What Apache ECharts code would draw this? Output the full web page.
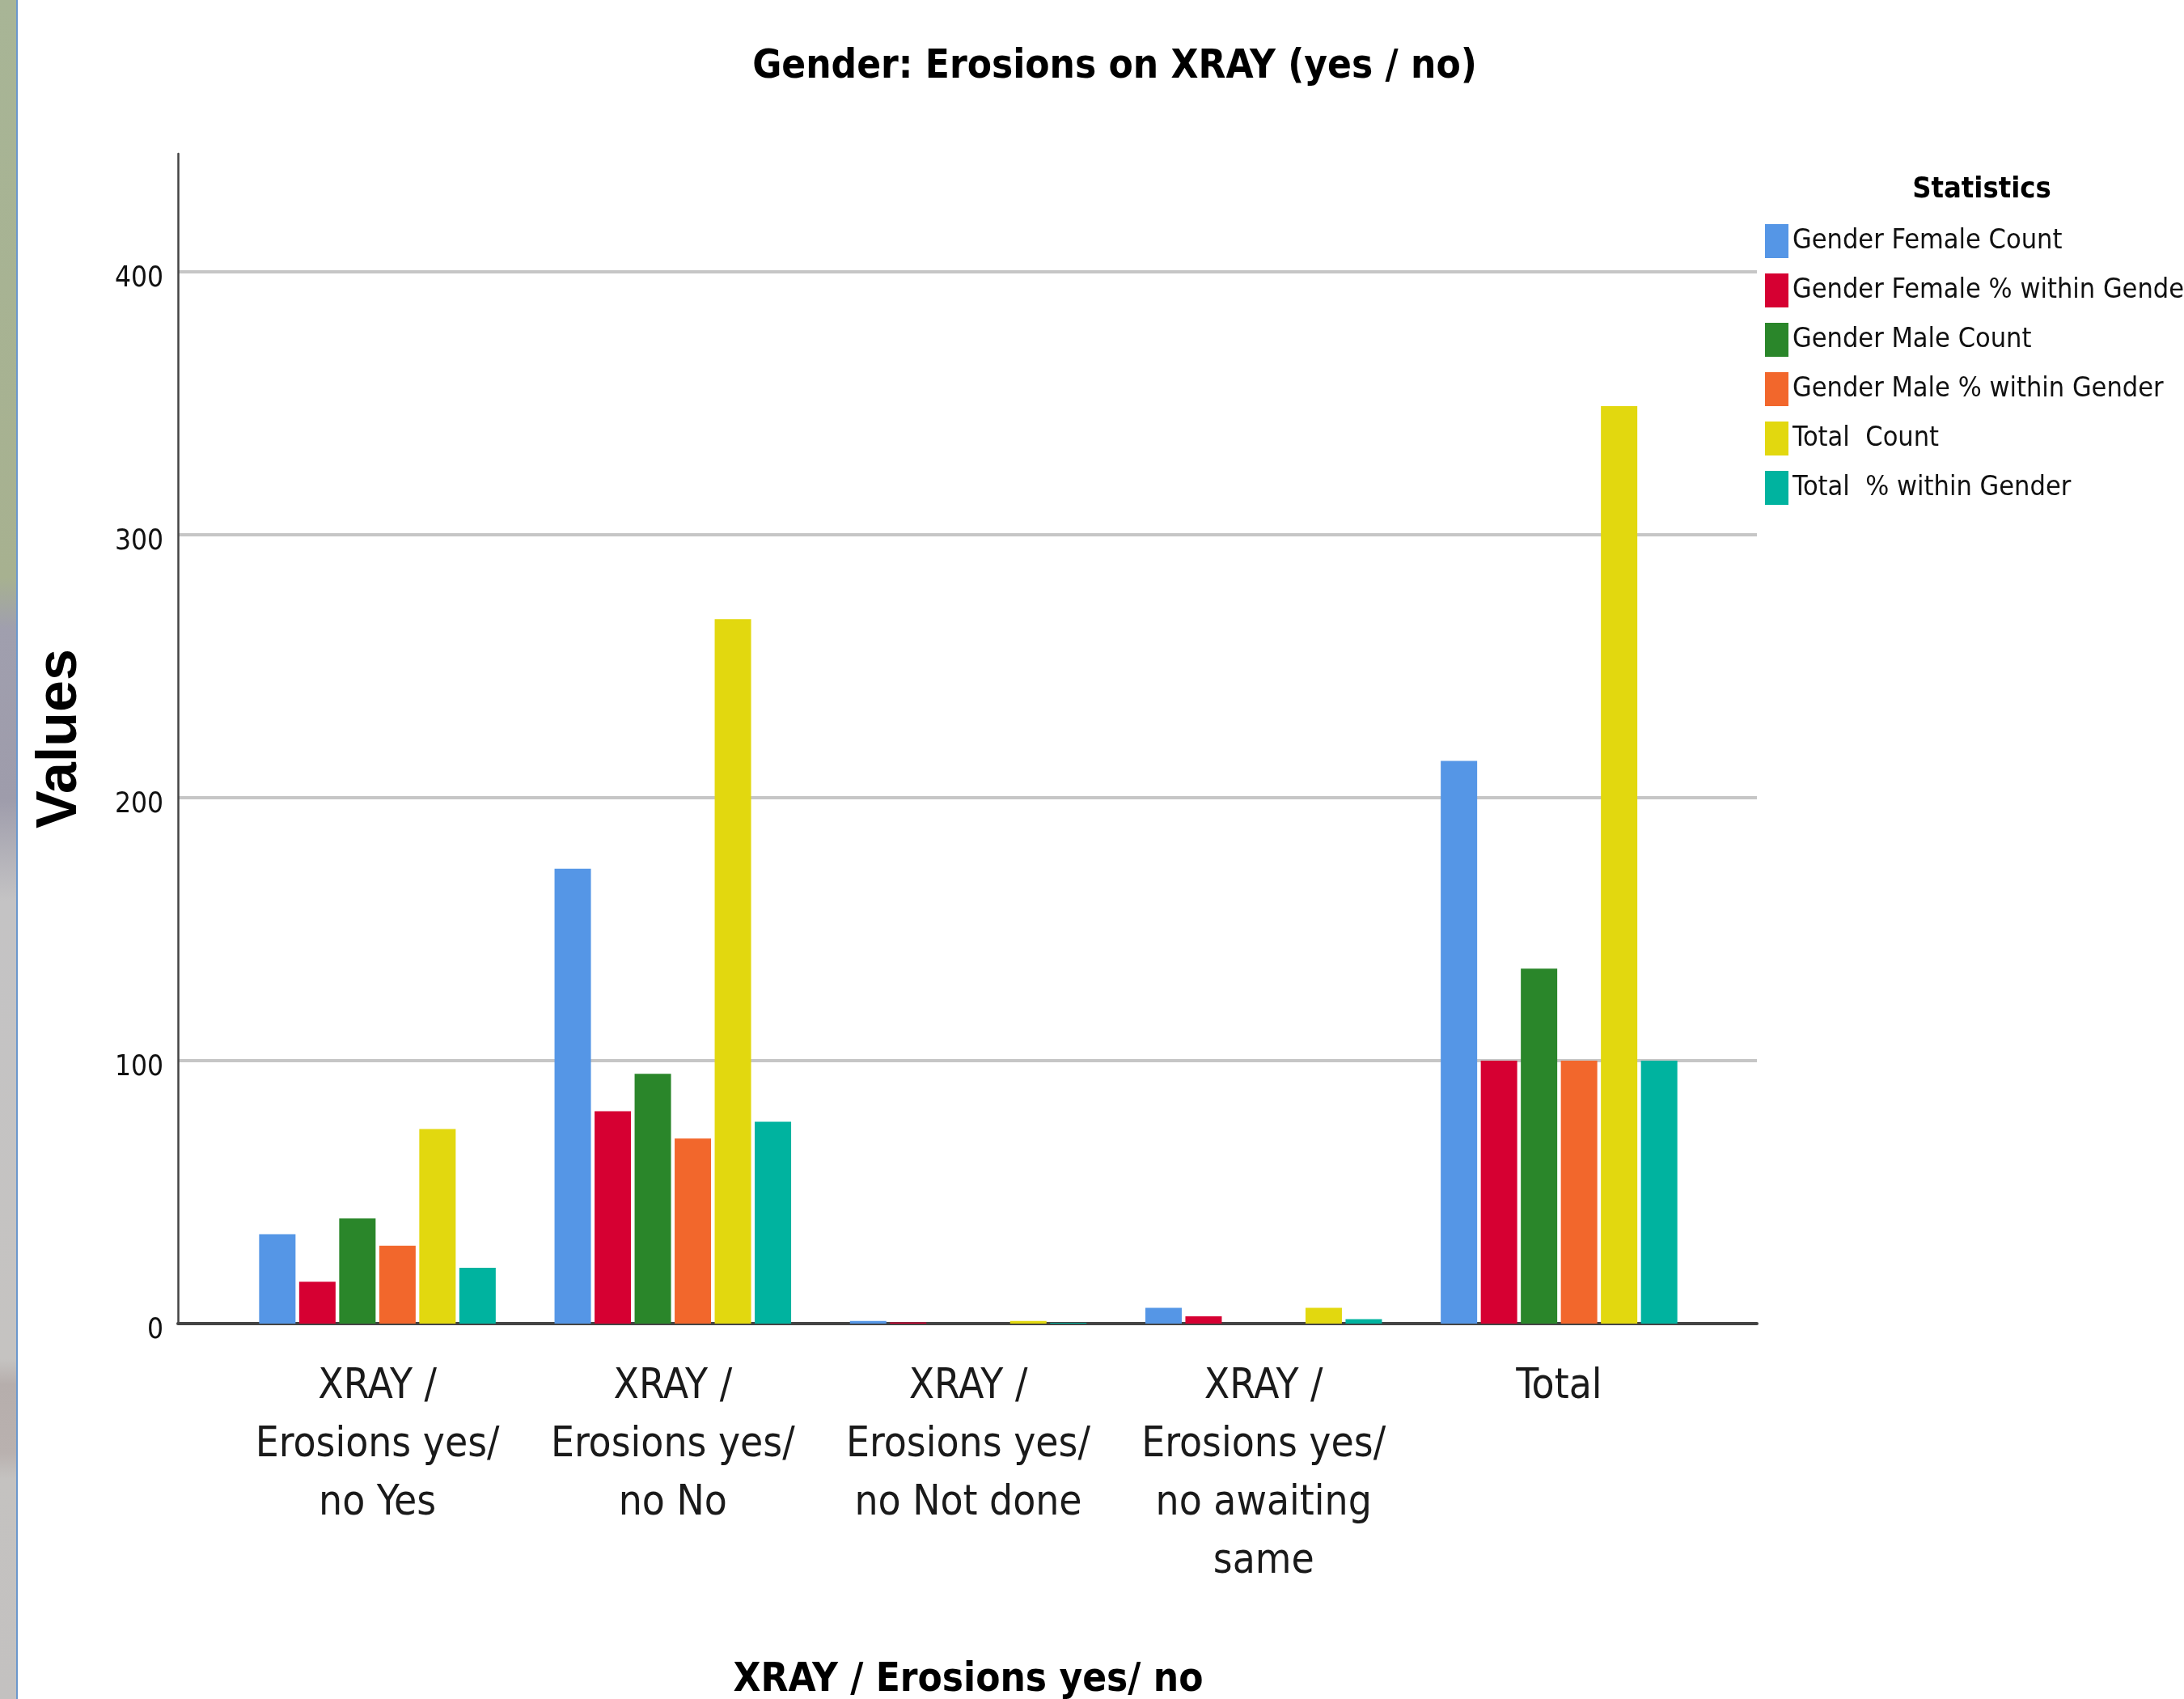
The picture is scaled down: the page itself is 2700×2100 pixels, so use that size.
<!DOCTYPE html>
<html>
<head>
<meta charset="utf-8">
<title>Gender: Erosions on XRAY (yes / no)</title>
<script src="https://cdn.jsdelivr.net/npm/echarts@6/dist/echarts.min.js"></script>
<style>
  html, body { margin: 0; padding: 0; background: #ffffff; }
  #chart { width: 2700px; height: 2100px; }
</style>
</head>
<body>
<div id="chart"></div>
<script>
// Categories of the XRAY / erosions variable
var categories = [
  'XRAY /\nErosions yes/\nno Yes',
  'XRAY /\nErosions yes/\nno No',
  'XRAY /\nErosions yes/\nno Not done',
  'XRAY /\nErosions yes/\nno awaiting\nsame',
  'Total'
];

// Statistics per category
var femaleCount = [34, 173, 1, 6, 214];
var femalePct   = [15.9, 80.8, 0.5, 2.8, 100];
var maleCount   = [40, 95, 0, 0, 135];
var malePct     = [29.6, 70.4, 0, 0, 100];
var totalCount  = [74, 268, 1, 6, 349];
var totalPct    = [21.2, 76.8, 0.3, 1.7, 100];

var seriesNames = [
  'Gender Female Count',
  'Gender Female % within Gender',
  'Gender Male Count',
  'Gender Male % within Gender',
  'Total  Count',
  'Total  % within Gender'
];
var seriesValues = [femaleCount, femalePct, maleCount, malePct, totalCount, totalPct];
var seriesColors = ['#5596E6', '#D60032', '#2A862A', '#F2672C', '#E2D80F', '#00B39F'];

var yMax = 445;
var yStep = 100;

var NARROW = "'Liberation Sans Narrow', 'DejaVu Sans Condensed', 'Arial Narrow', sans-serif";
var WIDE = "'Liberation Sans', Arial, sans-serif";

var chart = echarts.init(document.getElementById('chart'), null, { renderer: 'canvas' });

var series = seriesNames.map(function (name, i) {
  return {
    name: name,
    type: 'bar',
    xAxisIndex: 1,
    yAxisIndex: 1,
    data: seriesValues[i],
    barWidth: 45,
    barGap: '10%',
    itemStyle: { color: seriesColors[i] },
    emphasis: { disabled: true }
  };
});

var option = {
  backgroundColor: '#ffffff',
  animation: false,
  color: seriesColors,
  title: [
    {
      text: 'Gender: Erosions on XRAY (yes / no)',
      left: 1373,
      top: 54,
      textAlign: 'center',
      textStyle: { fontFamily: NARROW, fontWeight: 'bold', fontSize: 49, color: '#000000' }
    },
    {
      text: 'Statistics',
      left: 2445,
      top: 212,
      textAlign: 'center',
      textStyle: { fontFamily: NARROW, fontWeight: 'bold', fontSize: 36, color: '#000000' }
    }
  ],
  legend: {
    orient: 'vertical',
    left: 2177,
    top: 272,
    itemWidth: 29,
    itemHeight: 42,
    itemGap: 19,
    icon: 'rect',
    selectedMode: false,
    data: seriesNames,
    textStyle: { fontFamily: NARROW, fontSize: 34, color: '#111111' }
  },
  grid: [
    { left: 220, right: 528, top: 190, bottom: 464, containLabel: false, outerBoundsMode: 'none' },
    { left: 284, right: 590, top: 190, bottom: 464, containLabel: false, outerBoundsMode: 'none' }
  ],
  xAxis: [
    {
      gridIndex: 0,
      type: 'value',
      min: 0,
      max: 1,
      axisLine: { show: true, onZero: false, lineStyle: { color: '#444444', width: 4 } },
      axisTick: { show: false },
      axisLabel: { show: false },
      splitLine: { show: false }
    },
    {
      gridIndex: 1,
      type: 'category',
      data: categories,
      axisLine: { show: false },
      axisTick: { show: false },
      axisLabel: {
        interval: 0,
        margin: 43,
        fontFamily: NARROW,
        fontSize: 51,
        lineHeight: 72,
        color: '#1a1a1a'
      },
      name: 'XRAY / Erosions yes/ no',
      nameLocation: 'middle',
      nameGap: 417,
      nameTextStyle: { fontFamily: NARROW, fontWeight: 'bold', fontSize: 49, color: '#000000' }
    }
  ],
  yAxis: [
    {
      gridIndex: 0,
      type: 'value',
      min: 0,
      max: yMax,
      interval: yStep,
      axisLine: { show: true, lineStyle: { color: '#444444', width: 2.5 } },
      axisTick: { show: false },
      axisLabel: {
        showMaxLabel: false,
        margin: 18,
        verticalAlign: 'top',
        lineHeight: 18,
        fontFamily: NARROW,
        fontSize: 35,
        color: '#111111',
        formatter: function (v) { return v % yStep === 0 ? String(v) : ''; }
      },
      splitLine: {
        show: true,
        showMaxLine: false,
        lineStyle: { color: '#c6c6c6', width: 4 }
      },
      name: 'Values',
      nameLocation: 'middle',
      nameRotate: 90,
      nameGap: 110,
      nameTextStyle: { fontFamily: WIDE, fontWeight: 'bold', fontSize: 70, color: '#000000' }
    },
    {
      gridIndex: 1,
      type: 'value',
      min: 0,
      max: yMax,
      show: false
    }
  ],
  graphic: [
    {
      type: 'rect',
      left: 0,
      top: 0,
      z: -10,
      shape: { width: 20, height: 2100 },
      style: {
        fill: {
          type: 'linear', x: 0, y: 0, x2: 0, y2: 1,
          colorStops: [
            { offset: 0.00, color: '#a8b596' },
            { offset: 0.34, color: '#a7b190' },
            { offset: 0.37, color: '#a09fae' },
            { offset: 0.47, color: '#9e9cab' },
            { offset: 0.53, color: '#c4c3c4' },
            { offset: 0.80, color: '#c5c3c1' },
            { offset: 0.815, color: '#b6aeac' },
            { offset: 0.855, color: '#b9b1af' },
            { offset: 0.87, color: '#c4c2c0' },
            { offset: 1.00, color: '#c3c1c0' }
          ]
        }
      }
    },
    {
      type: 'rect',
      left: 20,
      top: 0,
      z: -10,
      shape: { width: 2, height: 2100 },
      style: { fill: '#6b97cc' }
    }
  ],
  series: series
};

chart.setOption(option);
</script>
</body>
</html>
